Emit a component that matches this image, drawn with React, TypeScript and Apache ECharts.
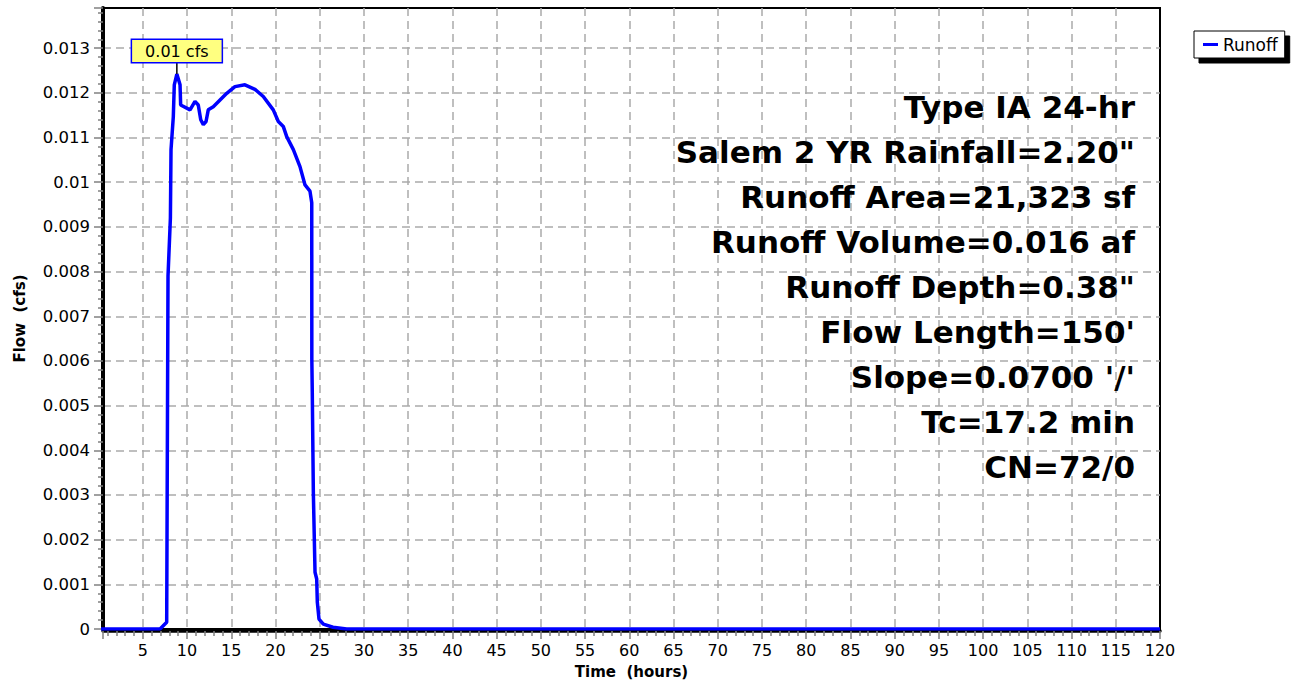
import React, { useEffect, useRef } from 'react';
import * as echarts from 'echarts';

const timeHours = [0, 6.95, 7.7, 7.85, 8.12, 8.19, 8.45, 8.56, 8.85, 9.21, 9.28, 10.34, 10.9, 11.27, 11.55, 11.84, 12.15, 12.4, 12.97, 13.73, 14.49, 15.42, 16.55, 17.68, 18.62, 19.75, 20.32, 20.88, 21.27, 22.02, 22.77, 23.34, 23.9, 24.1, 24.11, 24.16, 24.28, 24.47, 24.66, 24.73, 24.92, 25.41, 26.5, 28.05, 120];
const flowCfs = [0, 0, 0.00015, 0.0079, 0.0092, 0.01073, 0.01147, 0.01218, 0.01242, 0.01218, 0.01173, 0.01162, 0.01181, 0.01173, 0.0114, 0.01129, 0.01136, 0.01162, 0.01169, 0.01184, 0.01199, 0.01214, 0.01218, 0.01208, 0.01192, 0.01162, 0.01136, 0.01125, 0.01102, 0.01073, 0.01035, 0.00994, 0.0098, 0.00954, 0.00603, 0.0053, 0.00306, 0.00127, 0.00112, 0.0006, 0.00022, 0.00011, 0.00004, 0, 0];

const seriesName = 'Runoff';
const infoLines = [
  'Type IA 24-hr',
  'Salem 2 YR Rainfall=2.20"',
  'Runoff Area=21,323 sf',
  'Runoff Volume=0.016 af',
  'Runoff Depth=0.38"',
  "Flow Length=150'",
  "Slope=0.0700 '/'",
  'Tc=17.2 min',
  'CN=72/0',
];

const FONT = '"DejaVu Sans", sans-serif';

export default function App() {
  const ref = useRef<HTMLDivElement>(null);
  useEffect(() => {
    if (!ref.current) return;
    const chart = echarts.init(ref.current, null, { renderer: 'svg' });
    const data = timeHours.map((t, i) => [t, flowCfs[i]]);
    const gridLine = { color: '#aaaaaa', type: [8, 5], width: 1.5 };
    const tickLine = { color: '#808080', width: 1.5 };
    chart.setOption({
      animation: false,
      backgroundColor: '#fff',
      grid: {
        left: 103, right: 134, top: 8, bottom: 55,
        show: true, borderColor: '#000', borderWidth: 2, backgroundColor: 'transparent',
      },
      legend: {
        left: 1194, top: 31, orient: 'vertical',
        padding: [5, 7, 5, 9],
        backgroundColor: '#fff', borderColor: '#000', borderWidth: 1,
        shadowColor: '#000', shadowOffsetX: 5, shadowOffsetY: 5, shadowBlur: 0,
        itemWidth: 15, itemHeight: 3, icon: 'rect',
        textStyle: { fontSize: 17, fontFamily: FONT, color: '#000' },
        data: [seriesName],
      },
      xAxis: {
        type: 'value', min: 0.5, max: 120, splitNumber: 24, minInterval: 5, maxInterval: 5,
        offset: 2,
        axisLine: { show: true, onZero: false, lineStyle: { color: '#000', width: 3.5 } },
        axisTick: { show: true, length: 8, lineStyle: tickLine },
        minorTick: { show: true, splitNumber: 5, length: 5, lineStyle: tickLine },
        axisLabel: { showMinLabel: false, margin: 11, fontSize: 16, fontFamily: FONT, color: '#000' },
        splitLine: { show: true, showMinLine: false, showMaxLine: false, lineStyle: gridLine },
        name: 'Time  (hours)', nameLocation: 'middle', nameGap: 33,
        nameTextStyle: { fontWeight: 'bold', fontSize: 15, fontFamily: FONT, color: '#000' },
      },
      yAxis: {
        type: 'value', min: 0, max: 0.0139, interval: 0.001,
        axisLine: { show: true, onZero: false, lineStyle: { color: '#000', width: 4 } },
        axisTick: { show: true, length: 9, lineStyle: tickLine },
        minorTick: { show: true, splitNumber: 5, length: 5, lineStyle: tickLine },
        axisLabel: { showMaxLabel: false, margin: 13, fontSize: 16.5, fontFamily: FONT, color: '#000' },
        splitLine: { show: true, showMinLine: false, showMaxLine: false, lineStyle: gridLine },
        name: 'Flow  (cfs)', nameLocation: 'middle', nameGap: 76, nameRotate: 90,
        nameTextStyle: { fontWeight: 'bold', fontSize: 15, fontFamily: FONT, color: '#000' },
      },
      series: [
        {
          name: seriesName,
          type: 'line',
          data,
          showSymbol: false,
          symbol: 'none',
          color: '#0000ff',
          lineStyle: { color: '#0000ff', width: 3.5 },
          markPoint: {
            data: [{ type: 'max' }],
            symbol: 'rect',
            symbolSize: [1.5, 12],
            symbolOffset: [0, -6],
            itemStyle: { color: '#000' },
            label: {
              show: true,
              position: 'top',
              distance: 0,
              formatter: (p: any) => Number(p.value).toFixed(2) + ' cfs',
              backgroundColor: '#ffff80',
              borderColor: '#0000ff',
              borderWidth: 1.5,
              padding: [3, 13, 3, 13],
              fontSize: 16,
              fontFamily: FONT,
              color: '#000',
            },
          },
        },
      ],
      graphic: [
        {
          type: 'text',
          right: 159,
          top: 84,
          z: 10,
          style: {
            text: infoLines.join('\n'),
            font: 'bold 31px "DejaVu Sans", sans-serif',
            fill: '#000',
            textAlign: 'right',
            align: 'right',
            lineHeight: 45,
          },
        },
      ],
    });
    return () => chart.dispose();
  }, []);
  return (
    <div
      ref={ref}
      style={{ position: 'fixed', left: 0, top: 0, width: 1294, height: 684 }}
    />
  );
}
